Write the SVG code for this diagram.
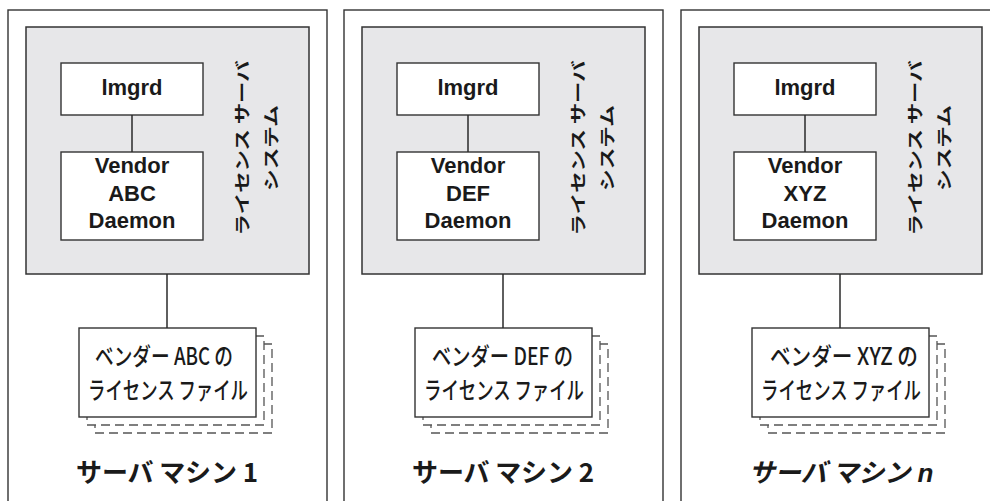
<svg xmlns="http://www.w3.org/2000/svg" width="990" height="501" viewBox="0 0 990 501">
<style>
.bg{fill:#ffffff}
.outer{fill:#ffffff;stroke:#333333;stroke-width:1.4}
.sys{fill:#e7e7e9;stroke:#333333;stroke-width:1.5}
.box{fill:#ffffff;stroke:#333333;stroke-width:1.4}
.stack{fill:#ffffff;stroke:#555555;stroke-width:1.3;stroke-dasharray:9 5}
.conn line{stroke:#2a2a2a;stroke-width:1.5}
.en{font-family:"Liberation Sans",Arial,sans-serif;font-weight:bold;font-size:22px;fill:#1a1a1a;text-anchor:middle}
.jp{font-family:"Noto Sans CJK JP","Noto Sans",sans-serif;fill:#1a1a1a;text-anchor:middle}
.vt{font-size:16px;font-weight:bold}
.fl{font-size:24px;font-weight:500}
.ttl{font-size:26px;font-weight:bold}
</style>
<rect class="bg" x="0" y="0" width="990" height="501"/>

<g id="machine1">
<rect class="outer" x="8" y="10" width="319" height="500"/>
<text class="jp ttl" x="167" y="482" textLength="182">サーバ マシン 1</text>
</g>
<g id="machine2">
<rect class="outer" x="344" y="10" width="319" height="500"/>
<text class="jp ttl" x="503" y="482" textLength="182">サーバ マシン 2</text>
</g>
<g id="machine3">
<rect class="outer" x="681" y="10" width="319" height="500"/>
<text class="jp ttl" x="841" y="482" font-style="italic">サーバ マシン<tspan dx="7" font-family="Liberation Sans,Arial,sans-serif">n</tspan></text>
</g>

<g id="system1">
<rect class="sys" x="26" y="27" width="283" height="247"/>
<text class="jp vt" transform="translate(248,148) rotate(-90)" x="0" y="0" textLength="175" lengthAdjust="spacingAndGlyphs">ライセンス サーバ</text>
<text class="jp vt" transform="translate(276.5,148) rotate(-90)" x="0" y="0" textLength="86" lengthAdjust="spacingAndGlyphs">システム</text>
</g>
<g id="system2">
<rect class="sys" x="362" y="27" width="283" height="247"/>
<text class="jp vt" transform="translate(584,148) rotate(-90)" x="0" y="0" textLength="175" lengthAdjust="spacingAndGlyphs">ライセンス サーバ</text>
<text class="jp vt" transform="translate(612.5,148) rotate(-90)" x="0" y="0" textLength="86" lengthAdjust="spacingAndGlyphs">システム</text>
</g>
<g id="system3">
<rect class="sys" x="699" y="27" width="283" height="247"/>
<text class="jp vt" transform="translate(921,148) rotate(-90)" x="0" y="0" textLength="175" lengthAdjust="spacingAndGlyphs">ライセンス サーバ</text>
<text class="jp vt" transform="translate(949.5,148) rotate(-90)" x="0" y="0" textLength="86" lengthAdjust="spacingAndGlyphs">システム</text>
</g>

<g id="lmgrd1">
<rect class="box" x="61" y="63" width="142" height="52"/>
<text class="en" x="132" y="95">lmgrd</text>
</g>
<g id="lmgrd2">
<rect class="box" x="397" y="63" width="142" height="52"/>
<text class="en" x="468" y="95">lmgrd</text>
</g>
<g id="lmgrd3">
<rect class="box" x="734" y="63" width="142" height="52"/>
<text class="en" x="805" y="95">lmgrd</text>
</g>

<g id="vendor1">
<rect class="box" x="61" y="152" width="142" height="88"/>
<text class="en" x="132" y="173">Vendor</text>
<text class="en" x="132" y="200.5">ABC</text>
<text class="en" x="132" y="228">Daemon</text>
</g>
<g id="vendor2">
<rect class="box" x="397" y="152" width="142" height="88"/>
<text class="en" x="468" y="173">Vendor</text>
<text class="en" x="468" y="200.5">DEF</text>
<text class="en" x="468" y="228">Daemon</text>
</g>
<g id="vendor3">
<rect class="box" x="734" y="152" width="142" height="88"/>
<text class="en" x="805" y="173">Vendor</text>
<text class="en" x="805" y="200.5">XYZ</text>
<text class="en" x="805" y="228">Daemon</text>
</g>

<g id="file1">
<rect class="stack" x="95" y="344" width="177" height="89"/>
<rect class="stack" x="87" y="336" width="177" height="89"/>
<rect class="box" x="79" y="328" width="177" height="89"/>
<text class="jp fl" x="164" y="365" textLength="138" lengthAdjust="spacingAndGlyphs">ベンダー ABC の</text>
<text class="jp fl" x="168" y="399" textLength="160" lengthAdjust="spacingAndGlyphs">ライセンス ファイル</text>
</g>
<g id="file2">
<rect class="stack" x="431" y="344" width="177" height="89"/>
<rect class="stack" x="423" y="336" width="177" height="89"/>
<rect class="box" x="415" y="328" width="177" height="89"/>
<text class="jp fl" x="502.5" y="365" textLength="141" lengthAdjust="spacingAndGlyphs">ベンダー DEF の</text>
<text class="jp fl" x="504" y="399" textLength="160" lengthAdjust="spacingAndGlyphs">ライセンス ファイル</text>
</g>
<g id="file3">
<rect class="stack" x="768" y="344" width="177" height="89"/>
<rect class="stack" x="760" y="336" width="177" height="89"/>
<rect class="box" x="752" y="328" width="177" height="89"/>
<text class="jp fl" x="844" y="365" textLength="148" lengthAdjust="spacingAndGlyphs">ベンダー XYZ の</text>
<text class="jp fl" x="841" y="399" textLength="160" lengthAdjust="spacingAndGlyphs">ライセンス ファイル</text>
</g>

<g id="connectors" class="conn">
<line x1="132" y1="115" x2="132" y2="152"/>
<line x1="468" y1="115" x2="468" y2="152"/>
<line x1="805" y1="115" x2="805" y2="152"/>
<line x1="167" y1="274" x2="167" y2="328"/>
<line x1="503" y1="274" x2="503" y2="328"/>
<line x1="840" y1="274" x2="840" y2="328"/>
</g>
</svg>
